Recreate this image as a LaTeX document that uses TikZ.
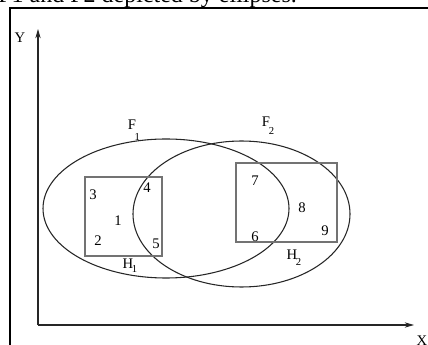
\documentclass[tikz,border=0pt]{standalone}
\usepackage{fontspec}
\setmainfont{Liberation Serif}
\usetikzlibrary{arrows.meta}
\newcommand{\sublbl}[3]{#1\hspace{-1pt}\raisebox{#3}{\fontsize{8}{9}\selectfont #2}}
\begin{document}
\begin{tikzpicture}[x=0.75pt,y=-0.75pt,
  lbl/.style={inner sep=0pt,font=\fontsize{11}{12}\selectfont},
  capt/.style={inner sep=0pt,font=\fontsize{18}{20}\selectfont},
  ell/.style={draw=black!85,line width=0.8pt},
  boxh/.style={draw=black!55,line width=1.1pt},
  axis/.style={draw=black!85,line width=0.8pt,-{Stealth[length=7pt,width=4pt]}},
  frame/.style={draw=black,line width=1.4pt}]
\useasboundingbox (0,0) rectangle (428,345);
% clipped caption line
\node[capt,anchor=base west] (cap) at (-2,3) {F1 and F2 depicted by ellipses.};
% frame
\coordinate (ftl) at (10,8);
\coordinate (fbl) at (10,350);
\coordinate (ftr) at (432,8);
\draw[frame] (fbl) -- (ftl) -- (ftr);
% axes
\coordinate (o) at (38,325);
\coordinate (ytop) at (38,29);
\coordinate (xend) at (414,325);
\draw[axis] (o) -- (ytop);
\draw[axis] (o) -- (xend);
\node[lbl] (ylab) at (20,38) {Y};
\node[lbl] (xlab) at (422,341) {X};
% ellipses
\draw[ell] (166,208.5) ellipse [x radius=123, y radius=69.5];
\draw[ell] (241.5,214) ellipse [x radius=108.5, y radius=73];
\node[lbl,anchor=base] (f1) at (134,130) {\sublbl{F}{1}{-8pt}};
\node[lbl,anchor=base] (f2) at (268,127) {\sublbl{F}{2}{-6pt}};
% boxes
\draw[boxh] (85,177) rectangle (162,256);
\draw[boxh] (236,163) rectangle (337,242);
\node[lbl,anchor=base] (h1) at (130,268) {\sublbl{H}{1}{-3pt}};
\node[lbl,anchor=base] (h2) at (294,260) {\sublbl{H}{2}{-4pt}};
% numbers
\node[lbl] (n3) at (93,195) {3};
\node[lbl] (n4) at (147,188) {4};
\node[lbl] (n1) at (118,221) {1};
\node[lbl] (n2) at (98,241) {2};
\node[lbl] (n5) at (156,244) {5};
\node[lbl] (n7) at (255,181) {7};
\node[lbl] (n8) at (302,208) {8};
\node[lbl] (n6) at (255,237) {6};
\node[lbl] (n9) at (325,231) {9};
\end{tikzpicture}
\end{document}
